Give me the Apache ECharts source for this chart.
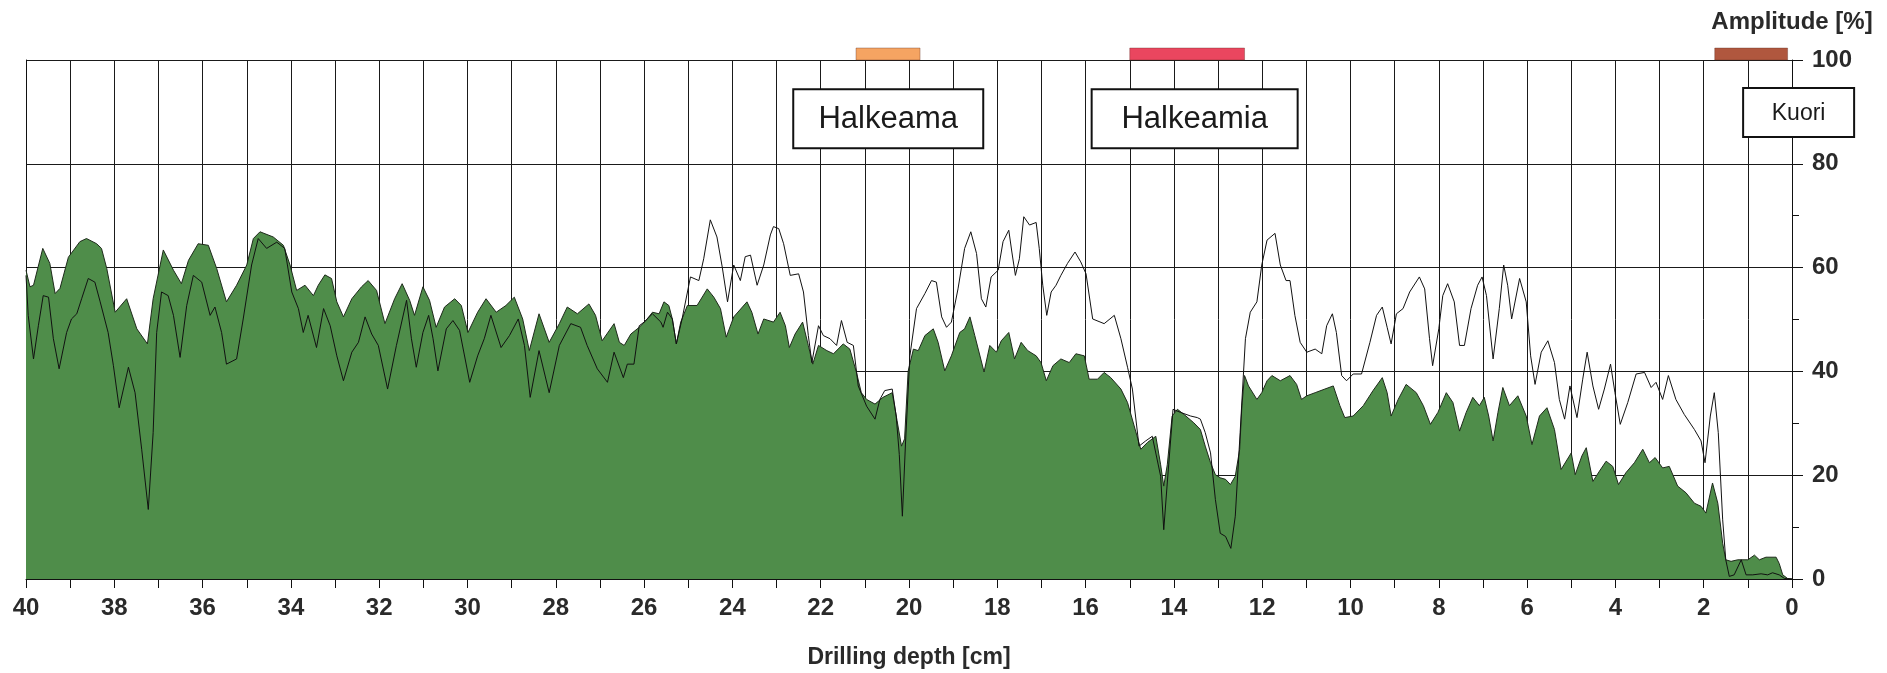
<!DOCTYPE html>
<html>
<head>
<meta charset="utf-8">
<script src="https://cdn.jsdelivr.net/npm/echarts@6/dist/echarts.min.js"></script>
<style>html,body{margin:0;padding:0;background:#fff;}#c{width:1887px;height:673px;}</style>
</head>
<body>
<div id="c"></div>
<script>
// Green filled amplitude (depth in cm, amplitude in %)
const greenDepth = [40.00,39.91,39.83,39.62,39.46,39.34,39.23,39.04,38.78,38.63,38.40,38.29,38.17,37.98,37.72,37.49,37.25,37.12,36.89,36.66,36.48,36.32,36.10,35.87,35.68,35.46,35.23,35.00,34.85,34.70,34.40,34.17,34.02,33.87,33.68,33.49,33.38,33.23,33.08,32.96,32.81,32.62,32.40,32.25,32.06,31.87,31.65,31.48,31.31,31.20,31.01,30.86,30.71,30.52,30.29,30.14,29.99,29.77,29.58,29.35,29.13,28.94,28.75,28.60,28.38,28.15,27.92,27.74,27.51,27.25,27.10,26.95,26.68,26.56,26.45,26.30,26.11,25.96,25.81,25.66,25.55,25.44,25.36,25.27,25.17,25.02,24.80,24.57,24.42,24.27,24.14,23.97,23.67,23.56,23.42,23.29,23.07,22.92,22.80,22.71,22.58,22.41,22.28,22.18,22.05,21.86,21.71,21.49,21.34,21.19,21.08,20.96,20.77,20.59,20.38,20.27,20.17,20.10,20.02,19.90,19.79,19.64,19.45,19.34,19.19,19.04,18.85,18.74,18.62,18.51,18.30,18.17,18.02,17.91,17.74,17.61,17.46,17.31,17.12,17.01,16.89,16.74,16.56,16.37,16.22,16.03,15.92,15.73,15.58,15.43,15.20,15.05,14.90,14.75,14.60,14.41,14.30,14.23,14.15,14.04,13.92,13.77,13.55,13.40,13.29,13.17,13.06,12.95,12.83,12.72,12.61,12.51,12.46,12.40,12.31,12.12,12.01,11.89,11.78,11.59,11.37,11.22,11.11,10.99,10.80,10.58,10.39,10.24,10.13,9.94,9.71,9.49,9.28,9.17,9.08,8.92,8.74,8.51,8.35,8.19,8.02,7.83,7.68,7.53,7.38,7.23,7.08,6.97,6.87,6.77,6.66,6.55,6.40,6.21,6.02,5.89,5.72,5.55,5.38,5.23,5.00,4.91,4.76,4.66,4.51,4.36,4.21,4.06,3.93,3.76,3.57,3.38,3.23,3.10,2.93,2.78,2.59,2.40,2.21,2.06,1.95,1.80,1.68,1.57,1.50,1.38,1.23,1.00,0.85,0.74,0.59,0.36,0.29,0.21,0.10,0.00];
const greenAmp = [59.5,56.3,56.6,63.7,60.8,55.0,56.0,62.0,65.0,65.6,64.6,63.7,59.8,51.4,54.0,48.2,45.3,54.0,63.4,59.5,56.9,61.4,64.6,64.3,59.8,53.4,56.6,60.5,65.6,66.9,65.9,64.3,60.5,55.6,56.6,54.6,56.6,58.6,57.9,53.4,50.5,54.0,56.3,57.5,55.6,49.2,54.0,56.9,53.7,50.8,56.3,53.7,48.5,52.4,54.0,52.7,47.5,51.4,54.0,51.4,52.7,54.3,50.1,44.0,51.1,45.6,49.2,52.4,51.1,53.0,50.8,45.9,49.2,45.6,45.0,47.2,48.5,49.8,51.4,51.1,53.4,52.7,50.1,45.3,49.5,52.7,52.7,55.9,54.3,52.1,46.6,50.5,53.4,51.4,47.2,50.1,49.5,51.4,48.8,44.6,47.2,49.5,45.0,41.4,45.0,44.0,43.4,45.3,44.3,39.8,35.9,34.6,33.7,35.0,35.9,30.5,25.6,27.0,40.0,44.3,44.0,46.9,48.2,45.6,40.1,43.0,47.5,48.2,50.5,46.9,39.9,45.0,43.7,45.9,47.5,42.4,45.6,44.0,43.0,41.7,38.2,41.1,42.4,41.7,43.4,43.0,38.5,38.5,39.8,38.8,36.6,34.0,29.5,25.0,26.3,27.5,22.0,17.9,22.0,31.4,32.7,31.7,30.1,28.8,25.6,22.4,20.1,19.5,19.2,18.2,19.8,25.0,33.4,39.2,37.2,34.6,35.9,38.2,39.2,38.2,39.2,37.5,34.6,35.3,35.9,36.6,37.2,33.4,31.1,31.4,33.4,36.3,38.8,35.9,31.4,34.6,37.5,35.9,33.4,29.8,32.1,35.9,34.0,28.5,32.1,35.0,33.4,35.0,31.4,26.6,32.1,36.9,33.4,35.3,31.4,25.9,31.4,33.0,28.8,21.1,24.3,20.1,23.7,25.3,18.8,20.8,22.7,21.7,18.2,20.5,22.4,25.0,22.4,23.4,21.4,21.7,17.9,16.6,14.6,14.0,12.7,18.5,14.6,6.9,3.7,3.4,3.7,3.7,4.6,3.7,4.2,4.2,3.0,0.8,0.1,0.0];

// Black amplitude line
const lineDepth = [40.00,39.95,39.83,39.72,39.61,39.49,39.38,39.25,39.08,38.97,38.85,38.74,38.59,38.44,38.32,38.14,38.02,37.89,37.68,37.53,37.38,37.23,37.12,37.04,36.93,36.78,36.66,36.51,36.36,36.21,36.02,35.83,35.72,35.57,35.46,35.23,35.08,34.89,34.74,34.55,34.32,34.14,33.98,33.83,33.72,33.61,33.42,33.26,33.11,32.96,32.81,32.62,32.47,32.32,32.17,32.02,31.81,31.61,31.38,31.27,31.16,31.01,30.88,30.78,30.67,30.48,30.33,30.18,29.95,29.77,29.62,29.47,29.24,29.05,28.85,28.71,28.58,28.38,28.15,27.92,27.66,27.44,27.29,27.06,26.83,26.68,26.47,26.38,26.23,26.11,26.00,25.81,25.62,25.57,25.47,25.36,25.27,25.14,24.95,24.76,24.65,24.50,24.35,24.23,24.11,23.97,23.82,23.71,23.59,23.44,23.29,23.14,23.07,22.95,22.84,22.69,22.50,22.39,22.28,22.20,22.05,21.94,21.79,21.64,21.53,21.40,21.26,21.15,20.96,20.77,20.66,20.55,20.38,20.29,20.22,20.15,20.08,19.98,19.83,19.64,19.49,19.38,19.26,19.15,19.04,18.89,18.74,18.60,18.47,18.36,18.26,18.14,17.98,17.87,17.74,17.67,17.59,17.50,17.40,17.27,17.12,17.05,16.97,16.88,16.78,16.67,16.56,16.41,16.24,16.11,15.99,15.84,15.58,15.35,15.20,15.05,14.94,14.79,14.64,14.49,14.30,14.23,14.15,14.02,13.85,13.62,13.47,13.40,13.29,13.17,13.06,12.95,12.83,12.71,12.61,12.50,12.38,12.27,12.12,12.01,11.89,11.71,11.59,11.46,11.37,11.26,11.14,10.99,10.80,10.65,10.54,10.41,10.32,10.20,10.09,9.94,9.75,9.56,9.41,9.28,9.17,9.08,8.96,8.81,8.66,8.44,8.32,8.21,8.14,8.00,7.91,7.80,7.65,7.53,7.42,7.27,7.12,7.02,6.92,6.77,6.63,6.53,6.44,6.35,6.17,6.02,5.92,5.82,5.68,5.53,5.38,5.27,5.15,5.03,4.87,4.74,4.64,4.51,4.38,4.25,4.11,4.01,3.89,3.72,3.53,3.34,3.19,3.08,2.93,2.80,2.63,2.44,2.21,2.06,1.97,1.85,1.76,1.67,1.57,1.50,1.42,1.31,1.15,1.04,0.89,0.70,0.55,0.44,0.29,0.17,0.00];
const lineAmp = [58.5,50.8,42.4,48.8,54.6,54.3,46.3,40.5,47.5,50.1,51.1,54.0,57.9,57.2,53.4,47.5,41.1,33.0,40.8,35.9,25.0,13.4,28.2,47.5,55.3,54.6,50.8,42.7,52.7,58.5,57.2,50.8,52.4,47.5,41.4,42.4,50.1,60.5,65.6,63.7,64.9,63.7,55.3,52.1,47.5,50.8,44.6,52.1,48.8,43.0,38.2,43.7,45.6,50.5,47.2,45.0,36.6,45.0,53.7,46.3,40.8,47.5,50.8,46.3,40.1,48.2,49.8,47.9,37.9,43.0,46.3,50.8,44.6,46.9,50.1,45.0,35.0,44.0,35.9,45.0,49.2,48.5,45.0,40.5,37.9,43.7,38.8,41.4,41.4,48.8,49.5,51.1,49.5,48.5,51.4,50.1,45.3,50.1,58.2,57.5,61.7,69.2,65.9,60.1,53.4,60.5,57.5,62.1,62.4,56.6,60.5,66.3,67.9,67.5,64.6,58.5,58.8,55.3,46.9,41.7,48.8,46.9,46.3,45.0,49.8,45.6,45.0,37.2,33.3,30.8,34.6,36.3,36.6,31.4,24.0,12.1,26.0,43.0,52.1,55.0,57.5,57.2,50.5,48.5,49.5,55.9,63.7,66.9,62.7,54.0,52.4,58.2,59.5,65.0,67.2,63.0,58.5,61.7,69.8,68.2,68.7,63.7,56.6,50.8,55.3,56.6,58.5,60.8,63.0,61.1,58.8,50.1,49.2,50.8,46.3,40.8,36.6,25.6,26.6,27.5,19.8,9.5,18.5,32.7,32.1,31.4,31.1,30.8,28.2,24.3,15.3,8.8,8.2,5.9,12.1,28.2,46.3,51.4,53.4,60.5,65.3,66.6,60.5,57.5,57.5,50.8,45.6,43.7,44.3,43.4,48.8,51.1,47.5,39.2,38.2,39.5,39.5,45.6,50.8,52.4,48.5,45.3,51.1,52.1,55.3,58.2,55.9,46.3,41.1,48.2,54.6,56.9,53.4,45.0,45.0,52.1,56.6,58.2,54.6,42.4,52.1,60.5,56.6,50.1,57.9,53.4,43.0,37.5,43.7,45.9,41.7,34.6,30.8,37.2,31.1,38.5,43.7,37.2,32.7,36.6,41.4,35.9,29.8,34.0,39.5,39.8,36.9,37.9,34.6,39.2,34.6,31.7,28.8,26.6,22.4,31.4,35.9,28.2,11.4,3.7,0.5,0.8,3.7,0.8,0.8,1.0,0.8,1.2,0.8,0.1,0.0];

// Marked zones at the top of the plot (depth start / end, cm)
const zoneStart = [21.2, 15.0, 1.75];
const zoneEnd = [19.75, 12.4, 0.1];

// Annotation boxes
const noteText = ['Halkeama', 'Halkeamia', 'Kuori'];
const noteDepth = [20.47, 13.53, -0.15];
const noteAmp = [88.7, 88.7, 89.9];

// Tick labels
const xTickLabels = [0, 2, 4, 6, 8, 10, 12, 14, 16, 18, 20, 22, 24, 26, 28, 30, 32, 34, 36, 38, 40];
const yTickLabels = [0, 20, 40, 60, 80, 100];

// --- styles (not data) ---
const zoneColors = ['#f5a462', '#ea465f', '#b0573e'];
const noteBoxes = [{w: 190, h: 59, fs: 31}, {w: 206, h: 59, fs: 31}, {w: 111, h: 49, fs: 23}];
const FONT = 'Liberation Sans, Arial, sans-serif';
const TXT = '#2a2a2a';

const chart = echarts.init(document.getElementById('c'), null, {renderer: 'canvas'});

const option = {
  animation: false,
  backgroundColor: '#ffffff',
  grid: {left: 26, right: 95, top: 60, bottom: 94, outerBoundsMode: 'none', containLabel: false},
  xAxis: {
    type: 'value', min: 0, max: 40, interval: 1, inverse: true,
    axisLine: {show: true, onZero: false, lineStyle: {color: '#111', width: 1}},
    axisTick: {show: true, length: 9, lineStyle: {color: '#111', width: 1}},
    axisLabel: {
      formatter: v => (xTickLabels.indexOf(v) >= 0 ? String(v) : ''),
      fontSize: 24, fontWeight: 'bold', color: TXT, fontFamily: FONT, margin: 17
    },
    splitLine: {show: true, lineStyle: {color: '#1a1a1a', width: 1}},
    name: 'Drilling depth [cm]', nameLocation: 'middle', nameGap: 67,
    nameTextStyle: {fontSize: 23, fontWeight: 'bold', color: TXT, fontFamily: FONT}
  },
  yAxis: [{
    type: 'value', position: 'right', min: 0, max: 100, interval: 20,
    axisLine: {show: true, lineStyle: {color: '#111', width: 1}},
    axisTick: {show: true, length: 11, lineStyle: {color: '#111', width: 1}},
    minorTick: {show: true, splitNumber: 2, length: 7, lineStyle: {color: '#111', width: 1}},
    axisLabel: {
      formatter: v => (yTickLabels.indexOf(v) >= 0 ? String(v) : ''),
      fontSize: 24, fontWeight: 'bold', color: TXT, fontFamily: FONT, margin: 20
    },
    splitLine: {show: true, lineStyle: {color: '#1a1a1a', width: 1}},
    name: 'Amplitude [%]', nameLocation: 'end', nameGap: 26,
    nameTextStyle: {fontSize: 24, fontWeight: 'bold', color: TXT, fontFamily: FONT, align: 'center'}
  }, {
    type: 'value', position: 'left', min: 0, max: 100,
    axisLine: {show: true, lineStyle: {color: '#111', width: 1}},
    axisTick: {show: false}, axisLabel: {show: false}, splitLine: {show: false}
  }],
  series: [
    {
      type: 'line', name: 'green', yAxisIndex: 0, symbol: 'none', z: 2,
      data: greenDepth.map((d, i) => [d, greenAmp[i]]),
      lineStyle: {color: '#1e2a1b', width: 1},
      areaStyle: {color: '#4f8d4a', opacity: 1}
    },
    {
      type: 'line', name: 'line', yAxisIndex: 0, symbol: 'none', z: 3,
      data: lineDepth.map((d, i) => [d, lineAmp[i]]),
      lineStyle: {color: '#111', width: 1}
    },
    {
      type: 'custom', name: 'zones', yAxisIndex: 0, clip: false, z: 5,
      encode: {x: [0, 1], y: 2},
      data: zoneStart.map((s, i) => [s, zoneEnd[i], 100]),
      renderItem: function (params, api) {
        const p1 = api.coord([api.value(0), api.value(2)]);
        const p2 = api.coord([api.value(1), api.value(2)]);
        const x = Math.min(p1[0], p2[0]);
        return {
          type: 'rect',
          shape: {x: x, y: p1[1] - 12, width: Math.abs(p2[0] - p1[0]), height: 12},
          style: {fill: zoneColors[params.dataIndex], stroke: 'rgba(90,40,30,0.35)', lineWidth: 1}
        };
      }
    },
    {
      type: 'custom', name: 'notes', yAxisIndex: 0, clip: false, z: 6,
      encode: {x: 0, y: 1},
      data: noteDepth.map((d, i) => [d, noteAmp[i]]),
      renderItem: function (params, api) {
        const c = api.coord([api.value(0), api.value(1)]);
        const b = noteBoxes[params.dataIndex];
        return {
          type: 'group',
          children: [
            {type: 'rect', shape: {x: c[0] - b.w / 2, y: c[1] - b.h / 2, width: b.w, height: b.h},
             style: {fill: '#fff', stroke: '#111', lineWidth: 2}},
            {type: 'text', x: c[0], y: c[1] + 1,
             style: {text: noteText[params.dataIndex], fontSize: b.fs, fontFamily: FONT, fill: '#1a1a1a',
                     align: 'center', verticalAlign: 'middle'}}
          ]
        };
      }
    }
  ]
};
chart.setOption(option);
</script>
</body>
</html>
